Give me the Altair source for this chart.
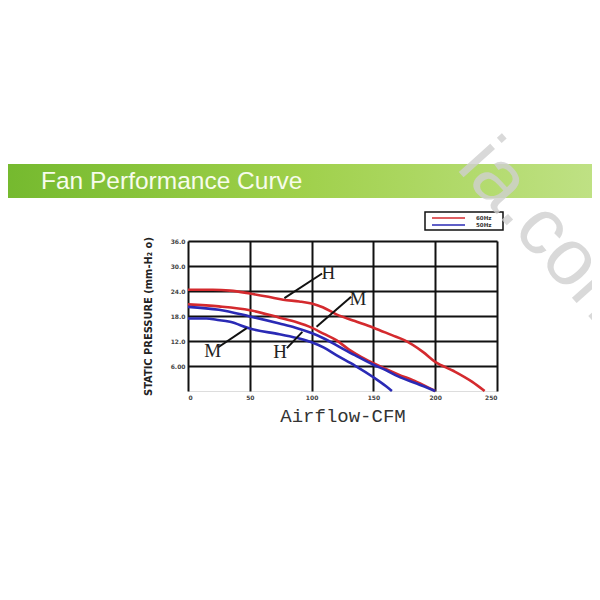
import altair as alt
import pandas as pd

# ---- data ----
x_ticks = [0, 50, 100, 150, 200, 250]
y_ticks = [6, 12, 18, 24, 30, 36]

h60_x = [0, 20, 34, 50, 65, 77, 90, 100, 109, 120, 135, 150, 165, 175, 190, 200, 215, 230, 240]
h60_y = [24.3, 24.3, 24.1, 23.4, 22.6, 21.9, 21.5, 21.0, 20.1, 18.4, 16.8, 15.2, 13.4, 12.2, 9.4, 7.0, 4.8, 2.2, 0.0]

m60_x = [0, 25, 50, 74, 88, 100, 110, 120, 130, 140, 150, 160, 170, 185, 200]
m60_y = [20.8, 20.3, 19.4, 17.6, 16.5, 15.2, 13.7, 12.2, 10.0, 8.2, 6.7, 5.3, 4.0, 2.2, 0.0]

h50_x = [0, 25, 50, 74, 87, 100, 110, 120, 135, 150, 160, 170, 185, 200]
h50_y = [20.2, 19.5, 17.9, 16.2, 15.2, 13.9, 12.6, 11.0, 8.6, 6.3, 5.0, 3.5, 1.8, 0.0]

m50_x = [0, 15, 23, 34, 50, 74, 90, 100, 110, 120, 135, 150, 160, 165]
m50_y = [17.4, 17.4, 17.1, 16.6, 15.0, 13.6, 12.6, 11.7, 10.4, 8.6, 6.1, 3.3, 1.2, 0.0]

series_freq = ["60Hz", "60Hz", "50Hz", "50Hz"]
series_speed = ["H", "M", "H", "M"]
series_x = [h60_x, m60_x, h50_x, m50_x]
series_y = [h60_y, m60_y, h50_y, m50_y]

freq_domain = ["60Hz", "50Hz"]
freq_colors = ["#d42a2e", "#2a2ab5"]

# annotation labels and leader lines (data coordinates)
ann_text = ["H", "M", "M", "H"]
ann_tx = [113.5, 137.5, 20.0, 74.5]
ann_ty = [28.3, 22.2, 9.6, 9.4]
lead_x1 = [78.0, 104.0, 24.5, 80.0]
lead_y1 = [22.3, 15.4, 10.5, 10.3]
lead_x2 = [108.5, 132.0, 47.5, 92.5]
lead_y2 = [28.2, 22.6, 15.1, 14.2]

banner_title = "Fan Performance Curve"
watermark = "ia.com"

rows = []
for f, s, xs_, ys_ in zip(series_freq, series_speed, series_x, series_y):
    for i, (a, b) in enumerate(zip(xs_, ys_)):
        rows.append({"freq": f, "speed": s, "key": f + s, "order": i, "cfm": a, "p": b})
df = pd.DataFrame(rows)

ann = pd.DataFrame({"t": ann_text, "x": ann_tx, "y": ann_ty})
lead = pd.DataFrame({"x": lead_x1, "y": lead_y1, "x2": lead_x2, "y2": lead_y2})
one = pd.DataFrame({"a": [0]})

W, H = 309, 150

xs = alt.Scale(domain=[0, 250], nice=False)
ys = alt.Scale(domain=[0, 36], nice=False)

x_axis = alt.Axis(values=x_ticks, tickCount=len(x_ticks), grid=True, gridColor="#111",
                  gridWidth=2, gridOpacity=1, ticks=False, domain=False, labelFontSize=6,
                  labelFont="DejaVu Sans", labelFontWeight="bold", labelColor="#444",
                  labelPadding=3, labelOverlap=False,
                  title="Airflow-CFM", titleFont="Liberation Mono", titleFontSize=19,
                  titleFontWeight="normal", titleColor="#333", titlePadding=6)
y_axis = alt.Axis(values=y_ticks, tickCount=len(y_ticks), grid=True, gridColor="#111",
                  gridWidth=2, gridOpacity=1, ticks=False, domain=False, labelFontSize=6,
                  labelFont="DejaVu Sans", labelFontWeight="bold", labelColor="#444",
                  labelPadding=3, labelOverlap=False,
                  labelExpr="datum.value == 6 ? '6.00' : format(datum.value, '.1f')",
                  title="STATIC PRESSURE (mm-H₂ o)",
                  titleFont="Liberation Sans Narrow, DejaVu Sans Condensed, sans-serif",
                  titleFontSize=11, titleFontWeight="bold", titleColor="#222", titlePadding=17)

lines = alt.Chart(df).mark_line(strokeWidth=2.6, interpolate="monotone").encode(
    x=alt.X("cfm:Q", scale=xs, axis=x_axis),
    y=alt.Y("p:Q", scale=ys, axis=y_axis),
    color=alt.Color("freq:N", scale=alt.Scale(domain=freq_domain, range=freq_colors), legend=None),
    detail="key:N",
    order="order:Q",
)

leaders = alt.Chart(lead).mark_rule(color="#111", strokeWidth=2).encode(
    x=alt.X("x:Q", scale=xs, axis=x_axis), y=alt.Y("y:Q", scale=ys, axis=y_axis),
    x2="x2:Q", y2="y2:Q",
)

labels = alt.Chart(ann).mark_text(font="Liberation Serif", fontSize=19, color="#222",
                                  align="center", baseline="middle").encode(
    x=alt.X("x:Q", scale=xs, axis=x_axis), y=alt.Y("y:Q", scale=ys, axis=y_axis), text="t:N",
)

banner = alt.Chart(one).mark_rect(
    color=alt.Gradient(gradient="linear", x1=0, x2=1, y1=0, y2=0,
                       stops=[alt.GradientStop(color="#74b92e", offset=0),
                              alt.GradientStop(color="#9fd04a", offset=0.5),
                              alt.GradientStop(color="#bfe184", offset=1)])
).encode(x=alt.value(-188), x2=alt.value(404), y=alt.value(-77), y2=alt.value(-43))

banner_text = alt.Chart(one).mark_text(align="left", baseline="alphabetic", fontSize=24.5,
                                       font="Liberation Sans", color="#f7fcec").encode(
    x=alt.value(-147), y=alt.value(-52), text=alt.value(banner_title))

mark_wm = alt.Chart(one).mark_text(align="left", baseline="middle", fontSize=80,
                                   font="Liberation Sans", color="#d0d0d0", opacity=0.8,
                                   angle=48).encode(
    x=alt.value(285), y=alt.value(-89), text=alt.value(watermark))

legend_box = alt.Chart(one).mark_rect(fill="white", stroke="#111", strokeWidth=1.5).encode(
    x=alt.value(237), x2=alt.value(315), y=alt.value(-29), y2=alt.value(-11))

legend_layers = []
for i, (f, c) in enumerate(zip(freq_domain, freq_colors)):
    yy = -23 + 7 * i
    legend_layers.append(
        alt.Chart(one).mark_rule(strokeWidth=1.5, color=c).encode(
            x=alt.value(244), x2=alt.value(277), y=alt.value(yy))
    )
    legend_layers.append(
        alt.Chart(one).mark_text(align="left", baseline="middle", fontSize=5.5,
                                 font="DejaVu Sans", fontWeight="bold", color="#333").encode(
            x=alt.value(288), y=alt.value(yy), text=alt.value(f))
    )

chart = alt.layer(
    lines, leaders, labels, banner, banner_text, legend_box, *legend_layers, mark_wm
).properties(
    width=W, height=H,
    autosize=alt.AutoSizeParams(type="none"),
    padding={"left": 180, "top": 233, "right": 95, "bottom": 190},
).configure_view(stroke="#111", strokeWidth=2).configure(background="white")

chart.save("out.html", embed_options={"renderer": "svg", "actions": False})
